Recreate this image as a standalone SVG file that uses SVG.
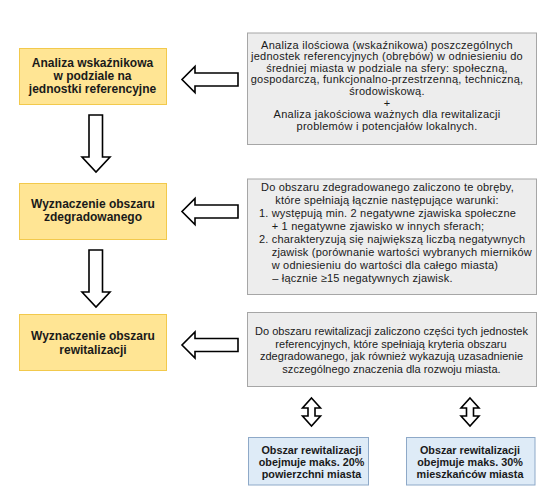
<svg xmlns="http://www.w3.org/2000/svg" width="549" height="499" viewBox="0 0 549 499">
<style>
.y{fill:#FFE594;stroke:#F2C94C;stroke-width:1}
.g{fill:#EDEDED;stroke:#A6A6A6;stroke-width:1}
.b{fill:#DEEBF7;stroke:#8EA9C8;stroke-width:1}
.ar{fill:#FFFFFF;stroke:#000000;stroke-width:1.6;stroke-linejoin:miter}
.ty{font-family:"Liberation Sans",Arial,sans-serif;font-size:12px;font-weight:bold;fill:#1a1a1a;text-anchor:middle}
.tb{font-family:"Liberation Sans",Arial,sans-serif;font-size:10.8px;font-weight:bold;fill:#1a1a1a;text-anchor:middle}
.tg{font-family:"Liberation Sans",Arial,sans-serif;font-size:11px;letter-spacing:0.25px;fill:#1a1a1a;text-anchor:middle}
.tl{font-family:"Liberation Sans",Arial,sans-serif;font-size:11px;letter-spacing:0.2px;fill:#1a1a1a;text-anchor:start}
.t3{font-family:"Liberation Sans",Arial,sans-serif;font-size:11px;letter-spacing:0.03px;fill:#1a1a1a;text-anchor:middle}
</style>
<rect width="549" height="499" fill="#FFFFFF"/>
<g id="node-analiza">
<rect class="y" x="19.5" y="48.5" width="147" height="56"/>
<text class="ty" x="92.5" y="66.7">Analiza wskaźnikowa</text>
<text class="ty" x="92.5" y="80">w podziale na </text>
<text class="ty" x="92.5" y="93.3">jednostki referencyjne</text>
</g>
<g id="node-zdegradowany">
<rect class="y" x="19.5" y="183.5" width="147" height="56"/>
<text class="ty" x="93" y="207.5">Wyznaczenie obszaru</text>
<text class="ty" x="93" y="221">zdegradowanego</text>
</g>
<g id="node-rewitalizacja">
<rect class="y" x="19.5" y="314.5" width="147" height="56"/>
<text class="ty" x="93" y="340">Wyznaczenie obszaru</text>
<text class="ty" x="93" y="353.5">rewitalizacji</text>
</g>
<g id="desc-analiza">
<rect class="g" x="247.5" y="33" width="289" height="111.5"/>
<text class="tg" x="387" y="48.5">Analiza ilościowa (wskaźnikowa) poszczególnych</text>
<text class="tg" x="387" y="60.1">jednostek referencyjnych (obrębów) w odniesieniu do</text>
<text class="tg" x="387" y="71.7">średniej miasta w podziale na sfery: społeczną,</text>
<text class="tg" x="387" y="83.3">gospodarczą, funkcjonalno-przestrzenną, techniczną,</text>
<text class="tg" x="387" y="94.9">środowiskową.</text>
<text class="tg" x="387" y="106.5">+</text>
<text class="tg" x="387" y="118.1">Analiza jakościowa ważnych dla rewitalizacji</text>
<text class="tg" x="387" y="129.7">problemów i potencjałów lokalnych.</text>
</g>
<g id="desc-zdegradowany">
<rect class="g" x="247.5" y="179" width="289" height="115.5"/>
<text class="tg" x="387.5" y="190.7" style="letter-spacing:0.2px">Do obszaru zdegradowanego zaliczono te obręby,</text>
<text class="tg" x="387" y="203.7" style="letter-spacing:0.2px">które spełniają łącznie następujące warunki:</text>
<text class="tl" x="259" y="216.7">1.</text>
<text class="tl" x="271.7" y="216.7">występują min. 2 negatywne zjawiska społeczne</text>
<text class="tl" x="271.7" y="229.7">+ 1 negatywne zjawisko w innych sferach;</text>
<text class="tl" x="259" y="242.7">2.</text>
<text class="tl" x="271.7" y="242.7">charakteryzują się największą liczbą negatywnych</text>
<text class="tl" x="271.7" y="255.7">zjawisk (porównanie wartości wybranych mierników</text>
<text class="tl" x="271.7" y="268.7">w odniesieniu do wartości dla całego miasta)</text>
<text class="tl" x="272.3" y="281.7">– łącznie ≥15 negatywnych zjawisk.</text>
</g>
<g id="desc-rewitalizacja">
<rect class="g" x="247.5" y="312.5" width="289" height="74"/>
<text class="t3" x="391.5" y="335">Do obszaru rewitalizacji zaliczono części tych jednostek</text>
<text class="t3" x="391" y="347.5">referencyjnych, które spełniają kryteria obszaru</text>
<text class="t3" x="391.5" y="360">zdegradowanego, jak również wykazują uzasadnienie</text>
<text class="t3" x="391.5" y="372.5">szczególnego znaczenia dla rozwoju miasta.</text>
</g>
<g id="limit-powierzchnia">
<rect class="b" x="248.5" y="437.5" width="120" height="47.5"/>
<text class="tb" x="311.5" y="453.5">Obszar rewitalizacji</text>
<text class="tb" x="311.5" y="465.5">obejmuje maks. 20%</text>
<text class="tb" x="311.5" y="477.5">powierzchni miasta</text>
</g>
<g id="limit-mieszkancy">
<rect class="b" x="406.5" y="437.5" width="128.5" height="47.5"/>
<text class="tb" x="470" y="453.5">Obszar rewitalizacji</text>
<text class="tb" x="470" y="465.5">obejmuje maks. 30%</text>
<text class="tb" x="470" y="477.5">mieszkańców miasta</text>
</g>
<g id="connectors">
<polygon class="ar" points="89,115 102.5,115 102.5,157 110,157 96,172 82,157 89,157"/>
<polygon class="ar" points="89,250 102.5,250 102.5,292 110,292 96,307 82,292 89,292"/>
<polygon class="ar" points="238,73 195,73 195,66.5 182,79.5 195,92.5 195,86 238,86"/>
<polygon class="ar" points="238,205 195,205 195,198.5 182,211.5 195,224.5 195,218 238,218"/>
<polygon class="ar" points="238,338.5 195,338.5 195,332 182,345 195,358 195,351.5 238,351.5"/>
<polygon class="ar" points="311.5,398 320.5,408 315,408 315,416 320.5,416 311.5,426 302.5,416 308,416 308,408 302.5,408"/>
<polygon class="ar" points="470,398 479,408 473.5,408 473.5,416 479,416 470,426 461,416 466.5,416 466.5,408 461,408"/>
</g>
</svg>
